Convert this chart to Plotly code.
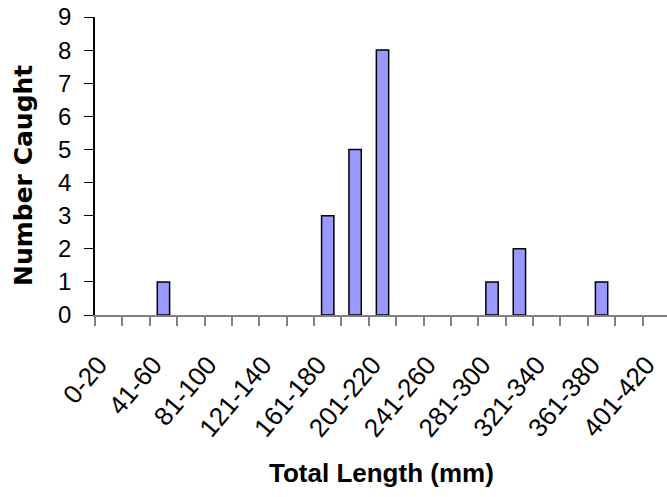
import plotly.graph_objects as go

categories = ["0-20", "21-40", "41-60", "61-80", "81-100", "101-120", "121-140",
              "141-160", "161-180", "181-200", "201-220", "221-240", "241-260",
              "261-280", "281-300", "301-320", "321-340", "341-360", "361-380",
              "381-400", "401-420"]
counts = [0, 0, 1, 0, 0, 0, 0, 0, 3, 5, 8, 0, 0, 0, 1, 2, 0, 0, 1, 0, 0]
tick_labels = [c if i % 2 == 0 else "" for i, c in enumerate(categories)]
y_ticks = list(range(0, 10))

W, H = 667, 497
L, R, T, B = 95, 0, 17, 182
pw, ph = W - L - R, H - T - B

# empty classes draw no bar (no outline on the axis)
bar_vals = [v if v > 0 else None for v in counts]

fig = go.Figure()
fig.add_trace(go.Bar(
    x=categories, y=bar_vals, width=0.45,
    marker=dict(color="#9999FF", line=dict(color="#000000", width=1.5)),
))

fig.update_layout(
    width=W, height=H,
    margin=dict(l=L, r=R, t=T, b=B, pad=0),
    paper_bgcolor="white", plot_bgcolor="white",
    showlegend=False,
    font=dict(family="Arial, Liberation Sans, sans-serif", color="black"),
    xaxis=dict(
        type="category",
        range=[-0.5, 20.39],
        tickmode="array", tickvals=categories, ticktext=tick_labels,
        tickson="boundaries",
        tickangle=-50,
        ticks="outside", ticklen=9, tickwidth=1.5, tickcolor="#808080",
        showline=True, linecolor="#808080", linewidth=2,
        showgrid=False, zeroline=False,
        tickfont=dict(size=26, family="Arial, Liberation Sans, sans-serif"),
        ticklabelstandoff=22,
        ticklabelshift=-10,
    ),
    yaxis=dict(
        range=[0, 9],
        tickmode="array", tickvals=y_ticks,
        ticks="outside", ticklen=9, tickwidth=1, tickcolor="#000000",
        showline=True, linecolor="#000000", linewidth=1.5,
        showgrid=False, zeroline=False,
        tickfont=dict(size=24, family="Arial, Liberation Sans, sans-serif"),
        ticklabelstandoff=8,
    ),
    annotations=[
        dict(text="<b>Number Caught</b>", textangle=-90,
             xref="paper", yref="paper",
             x=(23 - L) / pw, y=(315 - 176) / ph,
             xanchor="center", yanchor="middle", showarrow=False,
             font=dict(size=25, family="DejaVu Sans, sans-serif", color="black")),
        dict(text="<b>Total Length (mm)</b>",
             xref="paper", yref="paper",
             x=(381 - L) / pw, y=-(473 - 315) / ph,
             xanchor="center", yanchor="middle", showarrow=False,
             font=dict(size=26, family="Arial, Liberation Sans, sans-serif", color="black")),
    ],
)

fig.write_html("out.html")
